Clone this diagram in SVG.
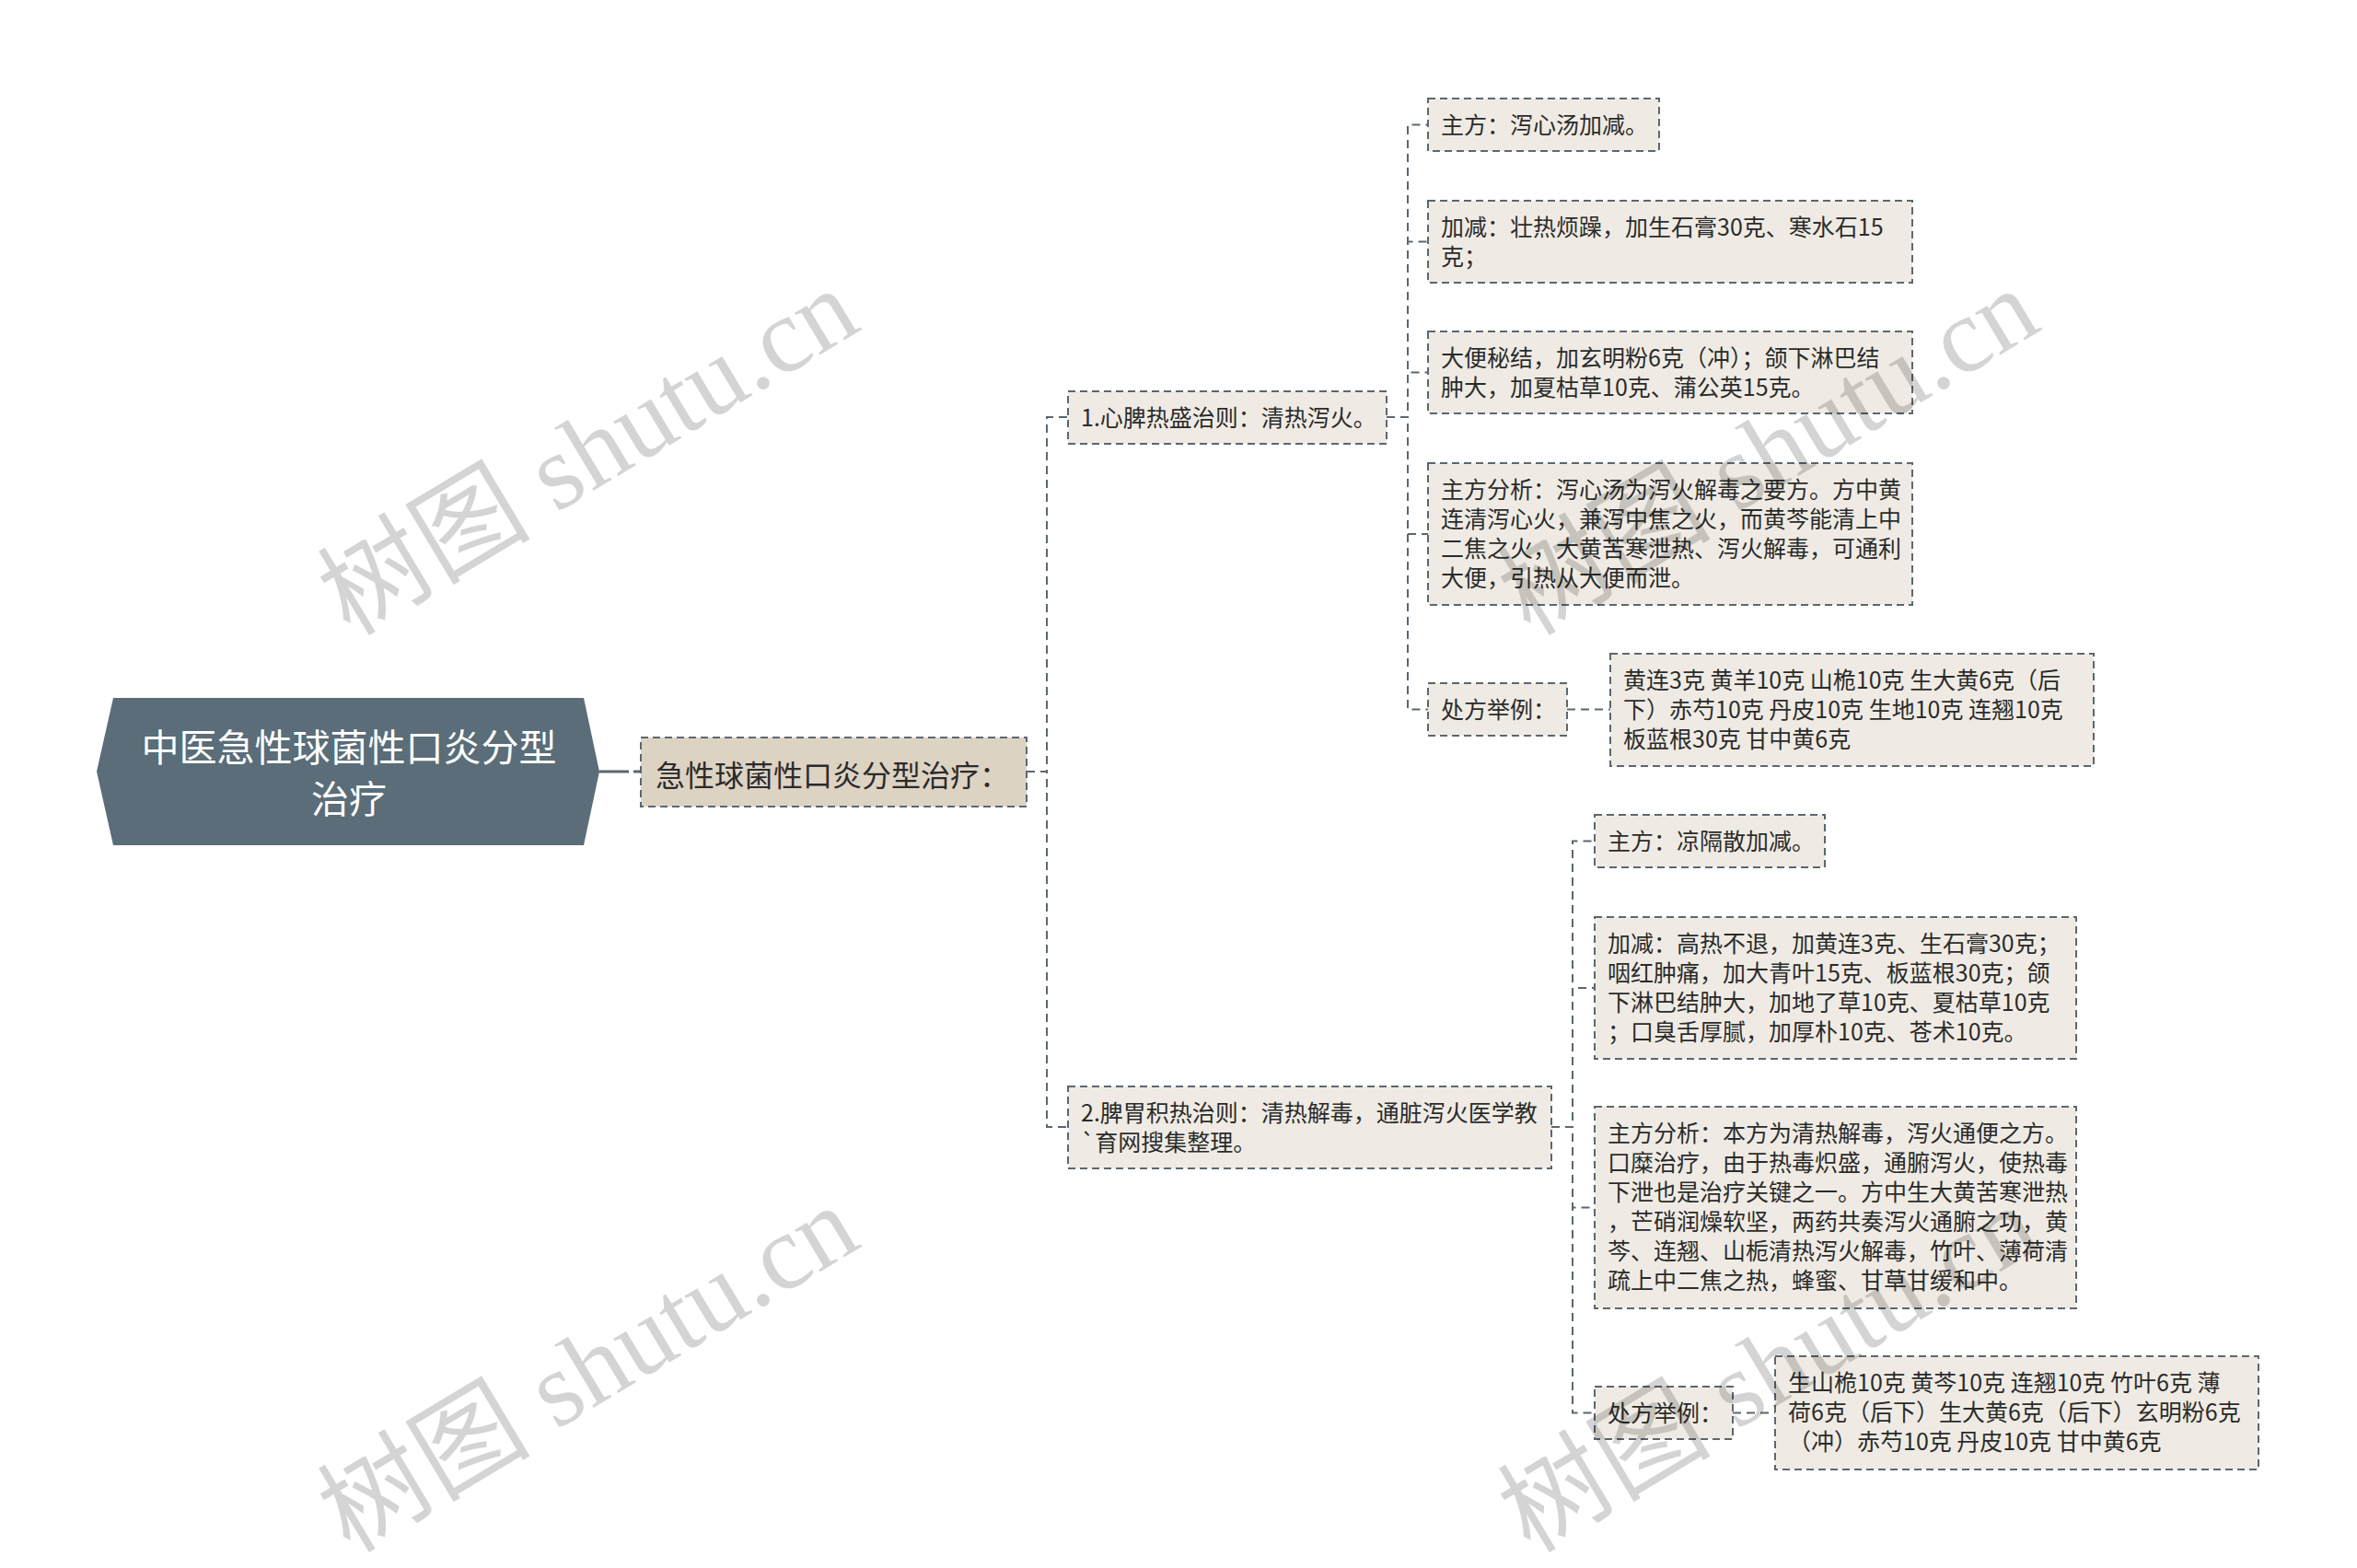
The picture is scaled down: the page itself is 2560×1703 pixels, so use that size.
<svg xmlns="http://www.w3.org/2000/svg" width="2560" height="1703" viewBox="0 0 2560 1703">
<style>
.bg{fill:#ffffff}
.leaf{fill:#efebe4;stroke:#5b6770;stroke-width:2;stroke-dasharray:8 5}
.sub{fill:#ddd3c3;stroke:#5b6770;stroke-width:2;stroke-dasharray:8 5}
.t{font-family:"Noto Sans CJK SC","Microsoft YaHei",sans-serif;font-size:25px;fill:#2b2b2b}
.t2{font-family:"Noto Sans CJK SC",sans-serif;font-size:32px;fill:#2b2b2b}
.tr{font-family:"Noto Sans CJK SC",sans-serif;font-size:41px;fill:#ffffff}
.c{fill:none;stroke:#5b6770;stroke-width:2;stroke-dasharray:9 6}
.wm{font-family:"Liberation Serif","Noto Sans CJK SC",serif;font-size:116px;fill:#000;fill-opacity:0.17}
</style>
<rect class="bg" x="0" y="0" width="2560" height="1703"/>

<g id="connectors">
  <path d="M651,838 H695" fill="none" stroke="#5b6770" stroke-width="3" stroke-dasharray="32 5 8"/>
  <path class="c" d="M1115,838 H1137 V453 H1160"/>
  <path class="c" d="M1115,838 H1137 V1224 H1160"/>
  <path class="c" d="M1506,453 H1529 V135.5 H1551"/>
  <path class="c" d="M1506,453 H1529 V262.5 H1551"/>
  <path class="c" d="M1506,453 H1529 V404.5 H1551"/>
  <path class="c" d="M1506,453 H1529 V580 H1551"/>
  <path class="c" d="M1506,453 H1529 V770.5 H1551"/>
  <path class="c" d="M1702,770.5 H1749"/>
  <path class="c" d="M1685,1224 H1708 V913.5 H1732"/>
  <path class="c" d="M1685,1224 H1708 V1073 H1732"/>
  <path class="c" d="M1685,1224 H1708 V1311.5 H1732"/>
  <path class="c" d="M1685,1224 H1708 V1534.5 H1732"/>
  <path class="c" d="M1882,1534.5 H1928"/>
</g>

<g id="root">
  <polygon points="123,758 634,758 651,838 634,918 123,918 105,838" fill="#5a6d78"/>
  <text class="tr" x="379" y="827" text-anchor="middle">中医急性球菌性口炎分型</text>
  <text class="tr" x="379" y="883" text-anchor="middle">治疗</text>
</g>

<g id="n-main">
  <rect class="sub" x="696" y="801" width="419" height="75"/>
  <text class="t2" x="712" y="854">急性球菌性口炎分型治疗：</text>
</g>

<g id="n-b1">
  <rect class="leaf" x="1160" y="425" width="346" height="57"/>
  <text class="t" x="1174" y="462.5">1.心脾热盛治则：清热泻火。</text>
</g>

<g id="n-b1-1">
  <rect class="leaf" x="1551" y="107" width="251" height="57"/>
  <text class="t" x="1565" y="144.5">主方：泻心汤加减。</text>
</g>
<g id="n-b1-2">
  <rect class="leaf" x="1551" y="218" width="526" height="89"/>
  <text class="t" x="1565" y="255.5">加减：壮热烦躁，加生石膏30克、寒水石15</text>
  <text class="t" x="1565" y="287.5">克；</text>
</g>
<g id="n-b1-3">
  <rect class="leaf" x="1551" y="360" width="526" height="89"/>
  <text class="t" x="1565" y="397.5">大便秘结，加玄明粉6克（冲）；颌下淋巴结</text>
  <text class="t" x="1565" y="429.5">肿大，加夏枯草10克、蒲公英15克。</text>
</g>
<g id="n-b1-4">
  <rect class="leaf" x="1551" y="503" width="526" height="154"/>
  <text class="t" x="1565" y="540.5">主方分析：泻心汤为泻火解毒之要方。方中黄</text>
  <text class="t" x="1565" y="572.5">连清泻心火，兼泻中焦之火，而黄芩能清上中</text>
  <text class="t" x="1565" y="604.5">二焦之火，大黄苦寒泄热、泻火解毒，可通利</text>
  <text class="t" x="1565" y="636.5">大便，引热从大便而泄。</text>
</g>
<g id="n-b1-5">
  <rect class="leaf" x="1551" y="742" width="151" height="57"/>
  <text class="t" x="1565" y="779.5">处方举例：</text>
</g>
<g id="n-b1-5-1">
  <rect class="leaf" x="1749" y="710" width="525" height="122"/>
  <text class="t" x="1763" y="747.5">黄连3克 黄羊10克 山桅10克 生大黄6克（后</text>
  <text class="t" x="1763" y="779.5">下）赤芍10克 丹皮10克 生地10克 连翘10克</text>
  <text class="t" x="1763" y="811.5">板蓝根30克 甘中黄6克</text>
</g>

<g id="n-b2">
  <rect class="leaf" x="1160" y="1180" width="525" height="89"/>
  <text class="t" x="1174" y="1217.5">2.脾胃积热治则：清热解毒，通脏泻火医学教</text>
  <text class="t" x="1174" y="1249.5">`育网搜集整理。</text>
</g>

<g id="n-b2-1">
  <rect class="leaf" x="1732" y="885" width="250" height="57"/>
  <text class="t" x="1746" y="922.5">主方：凉隔散加减。</text>
</g>
<g id="n-b2-2">
  <rect class="leaf" x="1732" y="996" width="523" height="154"/>
  <text class="t" x="1746" y="1033.5">加减：高热不退，加黄连3克、生石膏30克；</text>
  <text class="t" x="1746" y="1065.5">咽红肿痛，加大青叶15克、板蓝根30克；颌</text>
  <text class="t" x="1746" y="1097.5">下淋巴结肿大，加地了草10克、夏枯草10克</text>
  <text class="t" x="1746" y="1129.5">；口臭舌厚腻，加厚朴10克、苍术10克。</text>
</g>
<g id="n-b2-3">
  <rect class="leaf" x="1732" y="1202" width="523" height="219"/>
  <text class="t" x="1746" y="1239.5">主方分析：本方为清热解毒，泻火通便之方。</text>
  <text class="t" x="1746" y="1271.5">口糜治疗，由于热毒炽盛，通腑泻火，使热毒</text>
  <text class="t" x="1746" y="1303.5">下泄也是治疗关键之一。方中生大黄苦寒泄热</text>
  <text class="t" x="1746" y="1335.5">，芒硝润燥软坚，两药共奏泻火通腑之功，黄</text>
  <text class="t" x="1746" y="1367.5">芩、连翘、山栀清热泻火解毒，竹叶、薄荷清</text>
  <text class="t" x="1746" y="1399.5">疏上中二焦之热，蜂蜜、甘草甘缓和中。</text>
</g>
<g id="n-b2-4">
  <rect class="leaf" x="1732" y="1506" width="150" height="57"/>
  <text class="t" x="1746" y="1543.5">处方举例：</text>
</g>
<g id="n-b2-4-1">
  <rect class="leaf" x="1928" y="1473" width="525" height="123"/>
  <text class="t" x="1942" y="1510.5">生山桅10克 黄芩10克 连翘10克 竹叶6克 薄</text>
  <text class="t" x="1942" y="1542.5">荷6克（后下）生大黄6克（后下）玄明粉6克</text>
  <text class="t" x="1942" y="1574.5">（冲）赤芍10克 丹皮10克 甘中黄6克</text>
</g>

<g id="watermarks">
  <text class="wm" x="380" y="692" transform="rotate(-31 380 692)">树图 shutu.cn</text>
  <text class="wm" x="1662" y="692" transform="rotate(-31 1662 692)">树图 shutu.cn</text>
  <text class="wm" x="380" y="1688" transform="rotate(-31 380 1688)">树图 shutu.cn</text>
  <text class="wm" x="1662" y="1688" transform="rotate(-31 1662 1688)">树图 shutu.cn</text>
</g>
</svg>
